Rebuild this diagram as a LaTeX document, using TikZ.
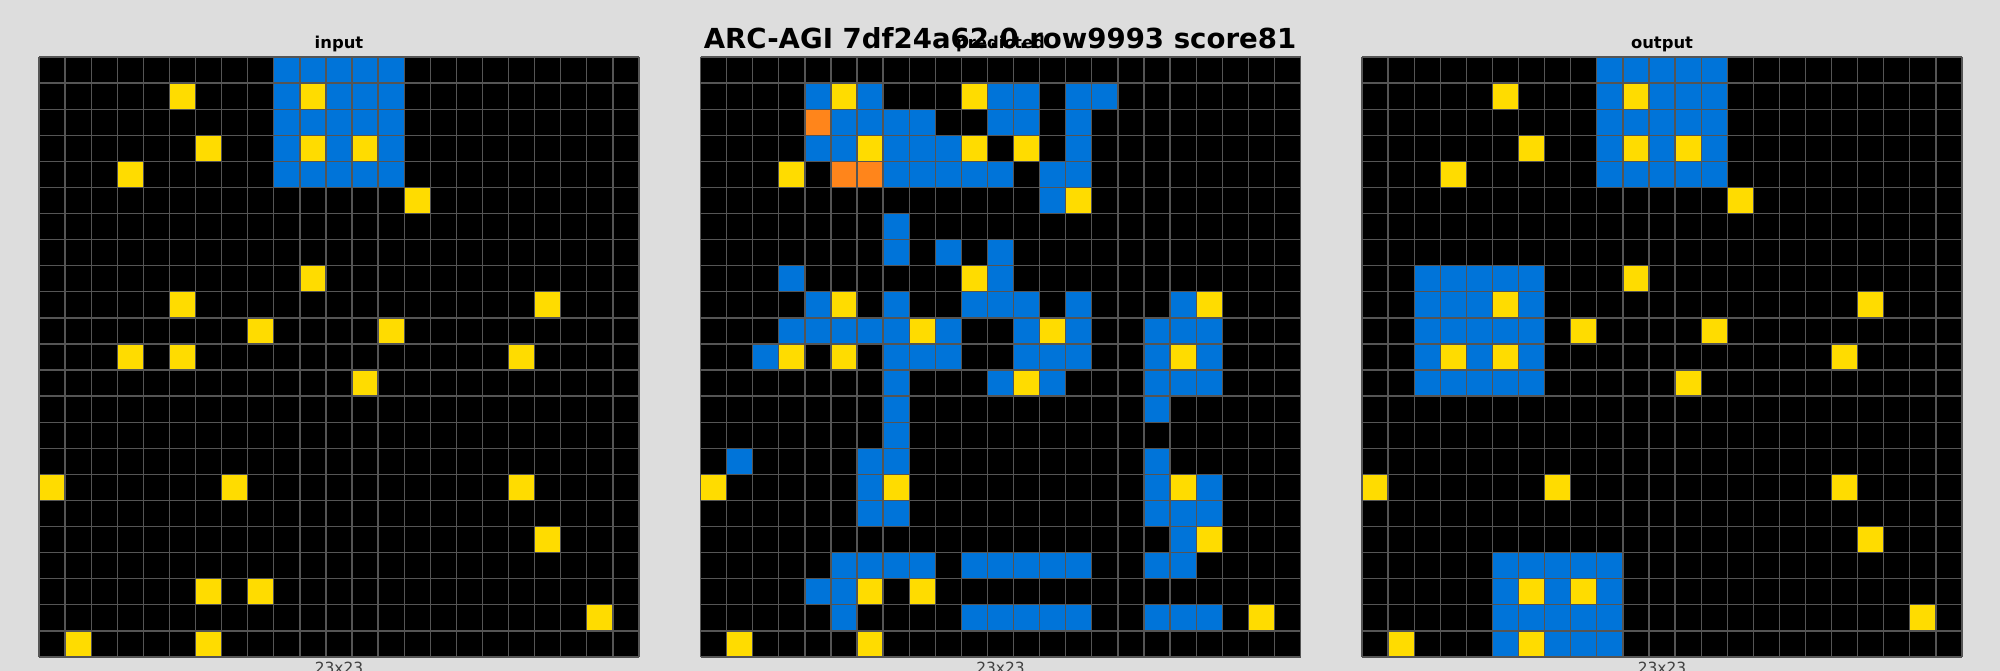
\documentclass[tikz,border=0pt]{standalone}
\usepackage{fontspec}
\setmainfont{DejaVu Sans}
\usepackage{tikz}
\usetikzlibrary{positioning}
\definecolor{arcbg}{RGB}{221,221,221}
\definecolor{arcblue}{RGB}{0,116,217}
\definecolor{arcyel}{RGB}{255,220,0}
\definecolor{arcorg}{RGB}{255,133,27}
\definecolor{arcline}{RGB}{85,85,85}
\newcommand{\cellfill}[2]{%
  \edef\celllist{#2}%
  \foreach \rw/\cl in \celllist \fill[#1] (\cl,\rw) rectangle ++(1,1);}
\newcommand{\cellblock}[5]{%
  \fill[#1] (#3,#2) rectangle (#5+1,#4+1);}
\newcommand{\gridlines}{%
  \foreach \k in {0,...,23} {
    \draw[gline] (\k,0) -- (\k,23);
    \draw[gline] (0,\k) -- (23,\k);}}
\newcommand{\yelcells}{1/5,1/10,3/6,3/10,3/12,4/3,5/14,8/10,9/5,9/19,10/8,10/13,%
11/3,11/5,11/18,12/12,16/0,16/7,16/18,18/19,20/6,20/8,21/21,22/1,22/6}
\tikzset{
  panel/.style={x=26.087pt, y=-26.087pt},
  gline/.style={arcline, line width=1.3pt},
  ptitle/.style={font=\fontsize{16.4}{18}\selectfont\bfseries, anchor=base},
  psize/.style={font=\fontsize{15.4}{17}\selectfont, text=black!75, anchor=base},
  mtitle/.style={font=\fontsize{27.6}{30}\selectfont\bfseries, anchor=base},
}

\begin{document}
\begin{tikzpicture}[x=1pt, y=-1pt]
\fill[arcbg] (0,0) rectangle (2000,671);
\useasboundingbox (0,0) rectangle (2000,671);
%---- input
\begin{scope}[xshift=39pt, yshift=-57pt, panel]
  \fill[black] (0,0) rectangle (23,23);
  \cellblock{arcblue}{0}{9}{4}{13}
  \cellfill{arcyel}{\yelcells}
  \gridlines
\end{scope}
%---- predicted
\begin{scope}[xshift=700.5pt, yshift=-57pt, panel]
  \fill[black] (0,0) rectangle (23,23);
  \cellfill{arcblue}{1/4,1/6,1/11,1/12,1/14,1/15,2/5,2/6,2/7,2/8,2/11,2/12,2/14,%
    3/4,3/5,3/7,3/8,3/9,3/14,4/7,4/8,4/9,4/10,4/11,4/13,4/14,5/13,6/7,%
    7/7,7/9,7/11,8/3,8/11,9/4,9/7,9/10,9/11,9/12,9/14,9/18,%
    10/3,10/4,10/5,10/6,10/7,10/9,10/12,10/14,10/17,10/18,10/19,%
    11/2,11/7,11/8,11/9,11/12,11/13,11/14,11/17,11/19,%
    12/7,12/11,12/13,12/17,12/18,12/19,13/7,13/17,14/7,%
    15/1,15/6,15/7,15/17,16/6,16/17,16/19,17/6,17/7,17/17,17/18,17/19,18/18,%
    19/5,19/6,19/7,19/8,19/10,19/11,19/12,19/13,19/14,19/17,19/18,20/4,20/5,%
    21/5,21/10,21/11,21/12,21/13,21/14,21/17,21/18,21/19}
  \cellfill{arcorg}{2/4,4/5,4/6}
  \cellfill{arcyel}{\yelcells}
  \gridlines
\end{scope}
%---- output
\begin{scope}[xshift=1362pt, yshift=-57pt, panel]
  \fill[black] (0,0) rectangle (23,23);
  \cellblock{arcblue}{0}{9}{4}{13}
  \cellblock{arcblue}{8}{2}{12}{6}
  \cellblock{arcblue}{19}{5}{22}{9}
  \cellfill{arcyel}{\yelcells}
  \gridlines
\end{scope}
%---- texts
\node[ptitle] (lblin) at (339,48.5) {input};
\node[ptitle] (lblpred) at (1000.5,48.5) {predicted};
\node[ptitle] (lblout) at (1662,48.5) {output};
\node[psize] (szin) at (339,673) {23x23};
\node[psize] (szpred) at (1000.5,673) {23x23};
\node[psize] (szout) at (1662,673) {23x23};
\node[mtitle] (ttl) at (1000,49) {ARC-AGI 7df24a62.0.row9993 score81};
\end{tikzpicture}
\end{document}
